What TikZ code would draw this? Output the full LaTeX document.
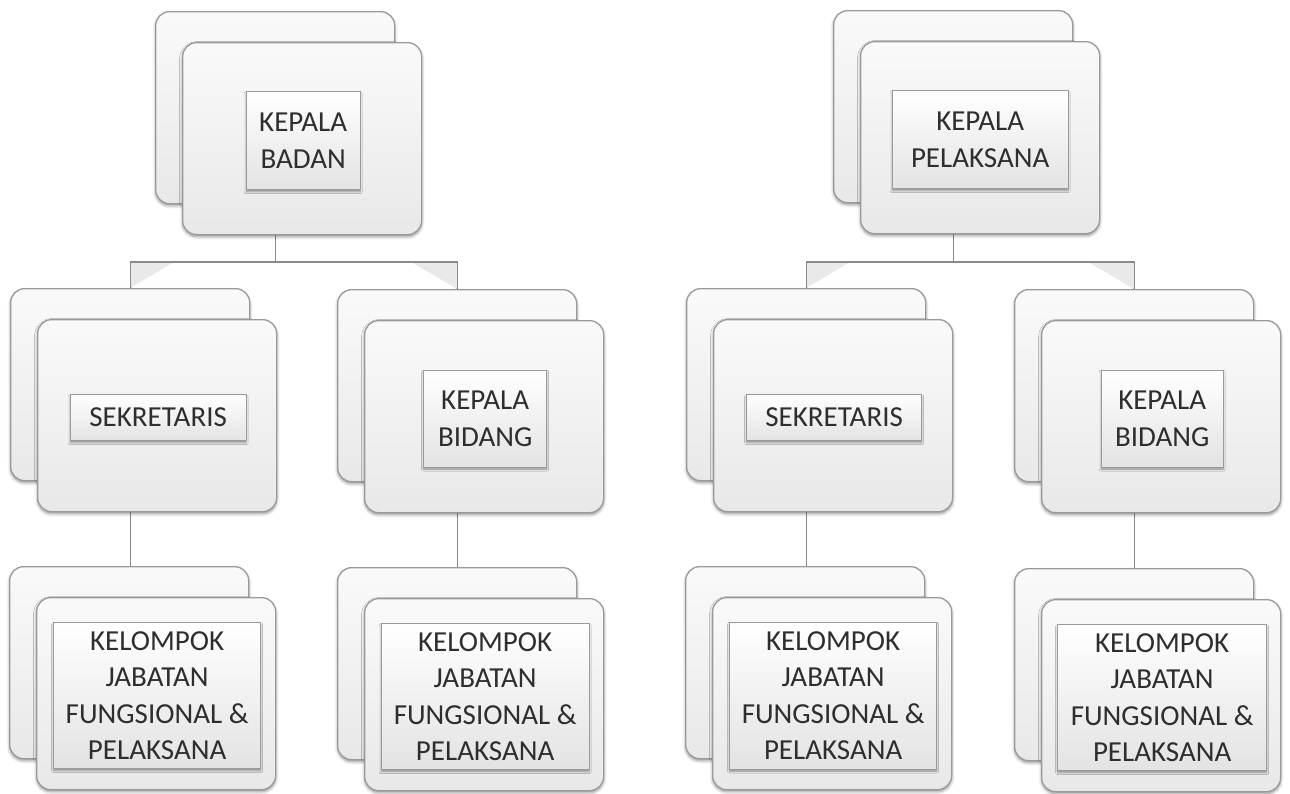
\documentclass[tikz,border=0pt]{standalone}
\usepackage{fontspec}
\setmainfont{Carlito}
\usetikzlibrary{shadows.blur,backgrounds}

\definecolor{cardedge}{HTML}{9A9A9A}
\definecolor{linkline}{HTML}{8A8A8A}
\definecolor{inktext}{HTML}{2E2E2E}
\definecolor{busshade}{HTML}{E9E9E9}

\tikzset{
  card/.style={rectangle, rounded corners=14pt, draw=cardedge, line width=1.3pt,
    top color=black!2, bottom color=black!9,
    minimum width=239pt, minimum height=192pt, inner sep=0pt, anchor=north west,
    blur shadow={shadow xshift=0pt, shadow yshift=-2pt, shadow blur radius=3pt, shadow opacity=45}},
  labelbox/.style={rectangle, draw=cardedge, line width=1pt,
    top color=white, bottom color=black!11, inner sep=0pt,
    text=inktext, align=center, font=\fontsize{29}{36.5}\selectfont,
    blur shadow={shadow xshift=0pt, shadow yshift=-2pt, shadow blur radius=2pt, shadow opacity=40}},
  link/.style={draw=linkline, line width=1.3pt},
  busfill/.style={fill=busshade, draw=none},
}

% a stacked pair of cards: back card at (x,y), front card offset by (27,31)
\newcommand{\orgcard}[3]{%
  \node[card] (#1b) at (#2,#3) {};
  \node[card] (#1f) at (#2+27,#3+31) {};
}

\begin{document}
\begin{tikzpicture}[x=1pt,y=-1pt]
\useasboundingbox (0,0) rectangle (1290,793);
\coordinate (bus) at (0,262);

% ---------- left chart ----------
\orgcard{lt}{155}{11}
\orgcard{lsa}{10}{288}
\orgcard{lkb}{337}{289}
\orgcard{lka}{9}{566}
\orgcard{lkk}{337}{567}

\node[labelbox, minimum width=114pt, minimum height=98pt] (ltl) at ([shift={(1,2)}]ltf.center) {KEPALA\\BADAN};
\node[labelbox, minimum width=176pt, minimum height=46pt] (lsal) at ([shift={(1,2)}]lsaf.center) {SEKRETARIS};
\node[labelbox, minimum width=123pt, minimum height=97pt] (lkbl) at ([shift={(1,2)}]lkbf.center) {KEPALA\\BIDANG};
\node[labelbox, minimum width=207pt, minimum height=146pt] (lkal) at ([shift={(1,2)}]lkaf.center) {KELOMPOK\\JABATAN\\FUNGSIONAL \&\\PELAKSANA};
\node[labelbox, minimum width=208pt, minimum height=146pt] (lkkl) at ([shift={(1,2)}]lkkf.center) {KELOMPOK\\JABATAN\\FUNGSIONAL \&\\PELAKSANA};

% ---------- right chart ----------
\orgcard{rt}{833}{10}
\orgcard{rsa}{686}{288}
\orgcard{rkb}{1014}{289}
\orgcard{rka}{685}{566}
\orgcard{rkk}{1014}{568}

\node[labelbox, minimum width=176pt, minimum height=98pt] (rtl) at ([shift={(0,2)}]rtf.center) {KEPALA\\PELAKSANA};
\node[labelbox, minimum width=175pt, minimum height=46pt] (rsal) at ([shift={(1,2)}]rsaf.center) {SEKRETARIS};
\node[labelbox, minimum width=122pt, minimum height=97pt] (rkbl) at ([shift={(1,2)}]rkbf.center) {KEPALA\\BIDANG};
\node[labelbox, minimum width=207pt, minimum height=147pt] (rkal) at ([shift={(1,2)}]rkaf.center) {KELOMPOK\\JABATAN\\FUNGSIONAL \&\\PELAKSANA};
\node[labelbox, minimum width=209pt, minimum height=146pt] (rkkl) at ([shift={(1,2)}]rkkf.center) {KELOMPOK\\JABATAN\\FUNGSIONAL \&\\PELAKSANA};

% ---------- connectors, behind the cards ----------
\begin{scope}[on background layer]
  % soft wedges under the ends of each bus
  \path[busfill] (lsab.north |- bus) -- ++(44,0) -- (lsab.north) -- cycle;
  \path[busfill] (lkbb.north |- bus) -- ++(-46,0) -- (lkbb.north) -- cycle;
  \path[busfill] (rsab.north |- bus) -- ++(44,0) -- (rsab.north) -- cycle;
  \path[busfill] (rkbb.north |- bus) -- ++(-46,0) -- (rkbb.north) -- cycle;

  \draw[link] (ltb.center) -- (ltb.center |- bus) -| (lsab.north);
  \draw[link] (ltb.center |- bus) -| (lkbb.north);
  \draw[link] (lsab.center) -- (lsab.center |- lkab.north);
  \draw[link] (lkbb.center) -- (lkbb.center |- lkkb.north);

  \draw[link] (rtb.center) -- (rtb.center |- bus) -| (rsab.north);
  \draw[link] (rtb.center |- bus) -| (rkbb.north);
  \draw[link] (rsab.center) -- (rsab.center |- rkab.north);
  \draw[link] (rkbb.center) -- (rkbb.center |- rkkb.north);
\end{scope}
\end{tikzpicture}
\end{document}
